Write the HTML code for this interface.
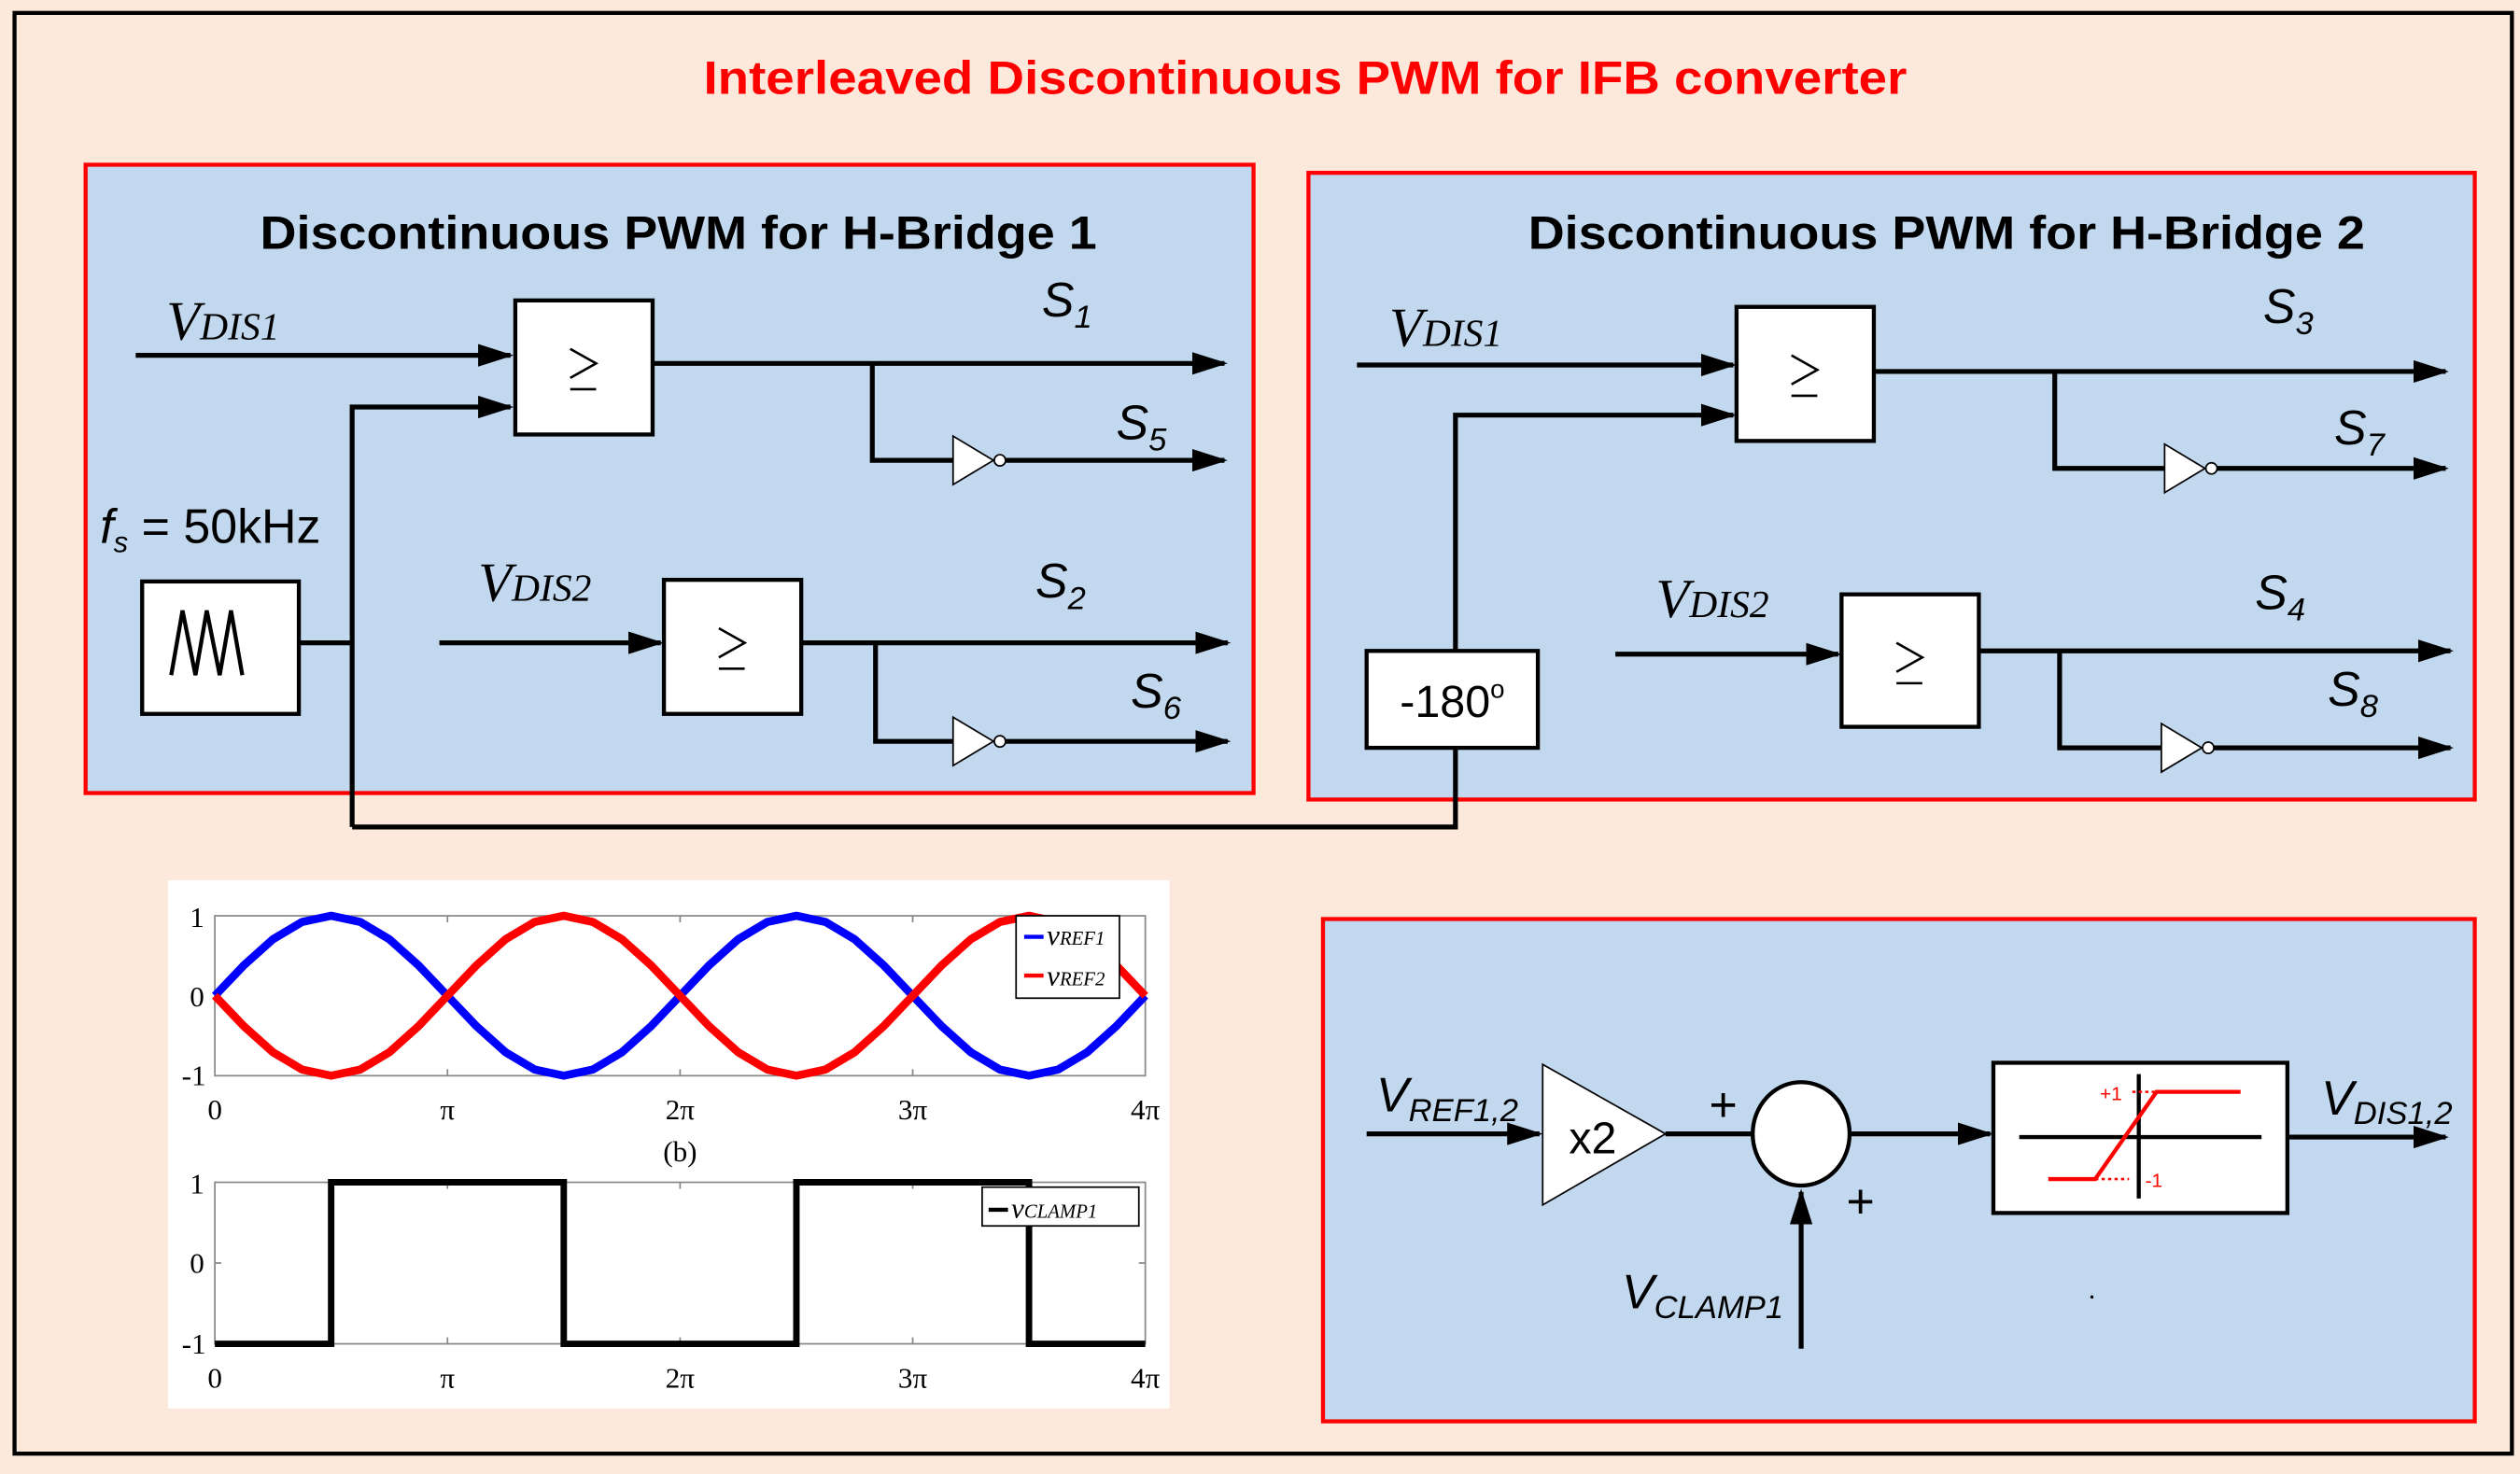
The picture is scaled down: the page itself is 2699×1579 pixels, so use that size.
<!DOCTYPE html>
<html><head><meta charset="utf-8"><style>
html,body{margin:0;padding:0;background:#fde9db;}
svg{display:block}
.t{font-family:"Liberation Sans",sans-serif}
.s{font-family:"Liberation Serif",serif;font-style:italic}
</style></head><body>
<svg width="2699" height="1579" viewBox="0 0 1560 912.6" preserveAspectRatio="none" xmlns="http://www.w3.org/2000/svg">
<defs>
<marker id="a" viewBox="0 0 22 14" refX="20" refY="7" markerWidth="22" markerHeight="14" orient="auto" markerUnits="userSpaceOnUse"><path d="M0,0L22,7L0,14z" fill="#000"/></marker>
<g id="ge"><path d="M-8,-12L8,-3L-8,6M-8,13H8" stroke="#000" stroke-width="1.5" fill="none"/></g>
</defs>
<rect x="0" y="0" width="1560" height="913" fill="#fde9db"/>
<rect x="9" y="8" width="1546" height="892" fill="#fde9db" stroke="#000" stroke-width="2.5"/>
<text x="808" y="58" text-anchor="middle" class="t" font-weight="bold" font-size="29" fill="#f00" textLength="745" lengthAdjust="spacingAndGlyphs">Interleaved Discontinuous PWM for IFB converter</text>

<g fill="#c2d8ee" stroke="#f00" stroke-width="2.5">
<rect x="53" y="102" width="723" height="389"/>
<rect x="810" y="107" width="722" height="388"/>
<rect x="819" y="569" width="713" height="311"/>
</g>

<g class="t" font-weight="bold" font-size="29" fill="#000" text-anchor="middle">
<text x="420" y="154" textLength="518" lengthAdjust="spacingAndGlyphs">Discontinuous PWM for H-Bridge 1</text>
<text x="1205" y="154" textLength="518" lengthAdjust="spacingAndGlyphs">Discontinuous PWM for H-Bridge 2</text>
</g>

<g stroke="#000" stroke-width="3" fill="none">
<path d="M84,220H316" marker-end="url(#a)"/>
<path d="M218,512V252H316" marker-end="url(#a)"/>
<path d="M185,398H218"/>
<path d="M218,512H901V463"/>
<path d="M404,225H758" marker-end="url(#a)"/>
<path d="M540,225V285H590"/>
<path d="M622,285H758" marker-end="url(#a)"/>
<path d="M272,398H409" marker-end="url(#a)"/>
<path d="M496,398H760" marker-end="url(#a)"/>
<path d="M542,398V459H590"/>
<path d="M622,459H760" marker-end="url(#a)"/>
<path d="M840,226H1073" marker-end="url(#a)"/>
<path d="M901,403V257H1073" marker-end="url(#a)"/>
<path d="M1160,230H1514" marker-end="url(#a)"/>
<path d="M1272,230V290H1340"/>
<path d="M1372,290H1514" marker-end="url(#a)"/>
<path d="M1000,405H1138" marker-end="url(#a)"/>
<path d="M1225,403H1517" marker-end="url(#a)"/>
<path d="M1275,403V463H1338"/>
<path d="M1370,463H1517" marker-end="url(#a)"/>
<path d="M846,702H953" marker-end="url(#a)"/>
<path d="M1031,702H1085"/>
<path d="M1146,702H1232" marker-end="url(#a)"/>
<path d="M1115,835V738" marker-end="url(#a)"/>
<path d="M1416,704H1514" marker-end="url(#a)"/>
</g>

<g fill="#fff" stroke="#000" stroke-width="2.5">
<rect x="319" y="186" width="85" height="83"/>
<rect x="411" y="359" width="85" height="83"/>
<rect x="88" y="360" width="97" height="82"/>
<rect x="1075" y="190" width="85" height="83"/>
<rect x="1140" y="368" width="85" height="82"/>
<rect x="846" y="403" width="106" height="60"/>
<rect x="1234" y="658" width="182" height="93"/>
<ellipse cx="1115" cy="702" rx="30" ry="32"/>
</g>
<g fill="#fff" stroke="#000" stroke-width="1">
<path d="M590,270V300L615,285z"/><circle cx="619" cy="285" r="3.5"/>
<path d="M590,444V474L615,459z"/><circle cx="619" cy="459" r="3.5"/>
<path d="M1340,275V305L1365,290z"/><circle cx="1369" cy="290" r="3.5"/>
<path d="M1338,448V478L1363,463z"/><circle cx="1367" cy="463" r="3.5"/>
<path d="M955,659V746L1031,702z"/>
</g>
<path d="M106,418L113,378L121,418L128,378L136,418L143,378L150,418" stroke="#000" stroke-width="2.5" fill="none"/>

<use href="#ge" x="361" y="228"/><use href="#ge" x="453" y="401"/>
<use href="#ge" x="1117" y="232"/><use href="#ge" x="1182" y="410"/>
<text x="899" y="444" class="t" font-size="28" text-anchor="middle">-180<tspan font-size="16" dy="-12">o</tspan></text>
<text x="986" y="714" class="t" font-size="28" text-anchor="middle">x2</text>

<g class="s" font-size="34" fill="#000">
<text x="103" y="210">V<tspan font-size="24">DIS1</tspan></text>
<text x="296" y="372">V<tspan font-size="24">DIS2</tspan></text>
<text x="860" y="214">V<tspan font-size="24">DIS1</tspan></text>
<text x="1025" y="382">V<tspan font-size="24">DIS2</tspan></text>
</g>
<g class="t" font-style="italic" font-size="30" fill="#000">
<text x="645" y="196">S<tspan font-size="20" dy="7">1</tspan></text>
<text x="691" y="272">S<tspan font-size="20" dy="7">5</tspan></text>
<text x="641" y="370">S<tspan font-size="20" dy="7">2</tspan></text>
<text x="700" y="438">S<tspan font-size="20" dy="7">6</tspan></text>
<text x="1401" y="200">S<tspan font-size="20" dy="7">3</tspan></text>
<text x="1445" y="275">S<tspan font-size="20" dy="7">7</tspan></text>
<text x="1396" y="377">S<tspan font-size="20" dy="7">4</tspan></text>
<text x="1441" y="437">S<tspan font-size="20" dy="7">8</tspan></text>
<text x="62" y="336">f<tspan font-size="18" dy="6">s</tspan><tspan dy="-6" font-style="normal"> = 50kHz</tspan></text>
<text x="852" y="688">V<tspan font-size="20" dy="6">REF1,2</tspan></text>
<text x="1437" y="690">V<tspan font-size="20" dy="6">DIS1,2</tspan></text>
<text x="1004" y="810">V<tspan font-size="20" dy="6">CLAMP1</tspan></text>
<text x="1058" y="694" font-style="normal">+</text>
<text x="1143" y="754" font-style="normal">+</text>
</g>
<path d="M1250,704H1400M1324,665V742" stroke="#000" stroke-width="2.5"/>
<path d="M1268,730H1297L1335,676H1387" stroke="#f00" stroke-width="2.5" fill="none"/>
<path d="M1297,730H1318M1320,676H1335" stroke="#f00" stroke-width="1.5" stroke-dasharray="2,2"/>
<text x="1300" y="681" class="t" font-size="12" fill="#f00">+1</text>
<text x="1328" y="735" class="t" font-size="12" fill="#f00">-1</text>
<circle cx="1295" cy="803" r="1" fill="#000"/>

<rect x="104" y="545" width="620" height="327" fill="#fff"/>
<g stroke="#888" stroke-width="1" fill="none">
<rect x="133" y="567" width="576" height="99"/>
<rect x="133" y="732" width="576" height="100"/>
<path d="M277,567v4M421,567v4M565,567v4M277,666v-4M421,666v-4M565,666v-4M277,732v4M421,732v4M565,732v4M277,832v-4M421,832v-4M565,832v-4M133,617h4M709,617h-4M133,782h4M709,782h-4"/>
</g>
<polyline fill="none" stroke="#00f" stroke-width="5" stroke-linejoin="round" points="133,616.5 151,597.6 169,581.5 187,570.8 205,567 223,570.8 241,581.5 259,597.6 277,616.5 295,635.4 313,651.5 331,662.2 349,666 367,662.2 385,651.5 403,635.4 421,616.5 439,597.6 457,581.5 475,570.8 493,567 511,570.8 529,581.5 547,597.6 565,616.5 583,635.4 601,651.5 619,662.2 637,666 655,662.2 673,651.5 691,635.4 709,616.5"/>
<polyline transform="translate(0,1233) scale(1,-1)" fill="none" stroke="#f00" stroke-width="5" stroke-linejoin="round" points="133,616.5 151,597.6 169,581.5 187,570.8 205,567 223,570.8 241,581.5 259,597.6 277,616.5 295,635.4 313,651.5 331,662.2 349,666 367,662.2 385,651.5 403,635.4 421,616.5 439,597.6 457,581.5 475,570.8 493,567 511,570.8 529,581.5 547,597.6 565,616.5 583,635.4 601,651.5 619,662.2 637,666 655,662.2 673,651.5 691,635.4 709,616.5"/>
<path d="M133,832H205V732H349V832H493V732H637V832H709" fill="none" stroke="#000" stroke-width="4"/>
<g fill="#fff" stroke="#000" stroke-width="1">
<rect x="629" y="567" width="64" height="51"/>
<rect x="608" y="735" width="97" height="24"/>
</g>
<g stroke-width="2.5"><path d="M634,580h12" stroke="#00f"/><path d="M634,604h12" stroke="#f00"/><path d="M612,749h12" stroke="#000"/></g>
<g class="s" font-size="18" font-style="italic" fill="#000">
<text x="648" y="585">v<tspan font-size="12">REF1</tspan></text>
<text x="648" y="610">v<tspan font-size="12">REF2</tspan></text>
<text x="626" y="754">v<tspan font-size="12">CLAMP1</tspan></text>
</g>
<g font-family="Liberation Serif,serif" font-size="18" fill="#000" text-anchor="middle">
<text x="122" y="574">1</text><text x="122" y="623">0</text><text x="120" y="672">-1</text>
<text x="122" y="739">1</text><text x="122" y="788">0</text><text x="120" y="838">-1</text>
<text x="133" y="693">0</text><text x="277" y="693">π</text><text x="421" y="693">2π</text><text x="565" y="693">3π</text><text x="709" y="693">4π</text>
<text x="133" y="859">0</text><text x="277" y="859">π</text><text x="421" y="859">2π</text><text x="565" y="859">3π</text><text x="709" y="859">4π</text>
<text x="421" y="719">(b)</text>
</g>
</svg>
</body></html>
